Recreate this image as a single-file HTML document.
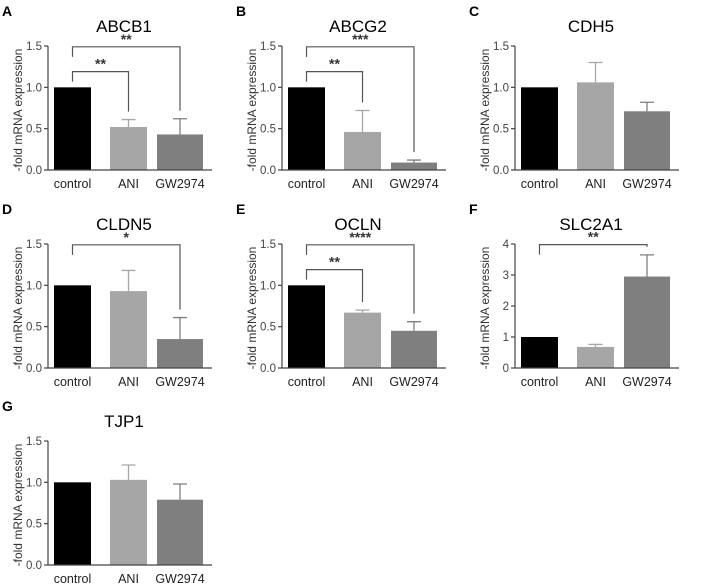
<!DOCTYPE html>
<html><head><meta charset="utf-8"><style>
body{margin:0;background:#fff;}
svg{display:block;font-family:"Liberation Sans",Arial,sans-serif;}
</style></head><body>
<svg id="fig" width="708" height="587"></svg>
<script>
const categories=["control","ANI","GW2974"];
const genes=["ABCB1","ABCG2","CDH5","CLDN5","OCLN","SLC2A1","TJP1"];
const letters=["A","B","C","D","E","F","G"];
const means=[[1,0.52,0.43],[1,0.46,0.09],[1,1.06,0.71],[1,0.93,0.35],[1,0.67,0.45],[1,0.68,2.95],[1,1.03,0.79]];
const errs=[[0,0.09,0.19],[0,0.26,0.03],[0,0.24,0.11],[0,0.25,0.26],[0,0.03,0.11],[0,0.08,0.7],[0,0.18,0.19]];
const yMaxes=[1.5,1.5,1.5,1.5,1.5,4,1.5];
const yTicks=[["0.0","0.5","1.0","1.5"],["0.0","0.5","1.0","1.5"],["0.0","0.5","1.0","1.5"],["0.0","0.5","1.0","1.5"],["0.0","0.5","1.0","1.5"],["0","1","2","3","4"],["0.0","0.5","1.0","1.5"]];
// significance brackets: [panel, targetIndex, level value, stars]
const sigs=[[0,1,1.19,"**"],[0,2,1.49,"**"],[1,1,1.19,"**"],[1,2,1.49,"***"],[3,2,1.49,"*"],[4,1,1.19,"**"],[4,2,1.49,"****"],[5,2,3.98,"**"]];
const colors=["#000000","#a6a6a6","#7f7f7f"];
const offX=[0,234,467],offY=[0,198,395];
const NS="http://www.w3.org/2000/svg";
const svg=document.getElementById('fig');
function mk(t,a,p){const e=document.createElementNS(NS,t);for(const k in a)e.setAttribute(k,a[k]);(p||svg).appendChild(e);return e;}
const axL=48,axB=170,axT=46,axR=212;
const barX=[54,110,157],barW=[37,37,46];
genes.forEach((g,i)=>{
  const ox=offX[i%3],oy=offY[Math.floor(i/3)];
  const grp=mk('g',{transform:`translate(${ox},${oy})`});
  
  
  const yv=v=>axB-(v/yMaxes[i])*(axB-axT);
  let t=mk('text',{x:2,y:16,'font-size':14,'font-weight':'bold'},grp);t.textContent=letters[i];
  
  t=mk('text',{x:124,y:32,'font-size':17,'text-anchor':'middle'},grp);t.textContent=g;
  
  t=mk('text',{x:0,y:0,'font-size':12,'text-anchor':'middle',fill:'#333',transform:`translate(22,${(axT+axB)/2+2}) rotate(-90)`},grp);t.textContent='-fold mRNA expression';
  
  means[i].forEach((m,j)=>{
    const x=barX[j],w=barW[j],cx=x+w/2;
    const r=mk('rect',{x:x,y:yv(m),width:w,height:axB-yv(m),fill:colors[j]},grp);
    
    if(errs[i][j]>0){
      const ty=yv(m+errs[i][j]);
      const e=mk('path',{d:`M${cx},${yv(m)}V${ty}M${cx-7},${ty}H${cx+7}`,stroke:colors[j],'stroke-width':1.3,fill:'none'},grp);
      
    }
    const l=mk('text',{x:cx,y:axB+18,'font-size':12.5,'text-anchor':'middle',fill:'#222'},grp);l.textContent=categories[j];
    
  });
  const ax=mk('path',{d:`M${axL},${axT}V${axB}H${axR}`,stroke:'#444','stroke-width':1.2,fill:'none'},grp);
  
  yTicks[i].forEach((lb,k)=>{
    const v=k*yMaxes[i]/(yTicks[i].length-1),y=yv(v);
    mk('line',{x1:axL-4,x2:axL,y1:y,y2:y,stroke:'#444','stroke-width':1.2},grp);
    const tt=mk('text',{x:axL-6,y:y+4,'font-size':11.5,'text-anchor':'end',fill:'#444'},grp);tt.textContent=lb;
    
  });
});
sigs.forEach(s=>{
  const i=s[0],ox=offX[i%3],oy=offY[Math.floor(i/3)];
  const yv=v=>oy+axB-(v/yMaxes[i])*(axB-axT);
  const x1=ox+barX[0]+barW[0]/2,j=s[1],x2=ox+barX[j]+barW[j]/2;
  const y=yv(s[2]);
  const top2=means[i][j]+errs[i][j];
  const y2=yv(top2)-8;
  const p=mk('path',{d:`M${x1},${y+10}V${y}H${x2}V${y2}`,stroke:'#555','stroke-width':1.2,fill:'none'});
  
  const t=mk('text',{x:(x1+x2)/2,y:y-3,'font-size':14,'font-weight':'bold','text-anchor':'middle',fill:'#333'});t.textContent=s[3];
  
});
</script>
</body></html>
